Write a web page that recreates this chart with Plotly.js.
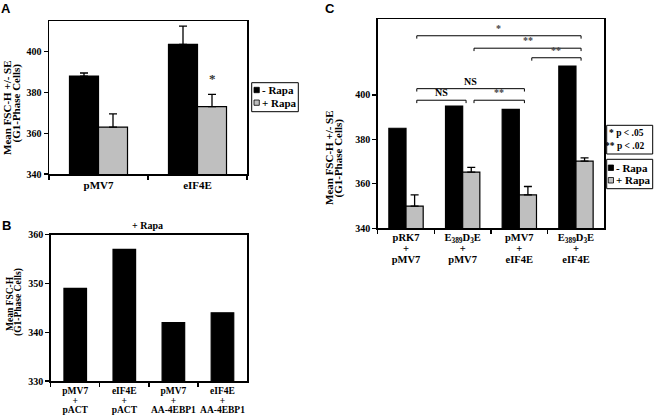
<!DOCTYPE html>
<html><head><meta charset="utf-8">
<script src="https://cdn.plot.ly/plotly-3.0.1.min.js"></script>
<style>html,body{margin:0;padding:0;background:#fff}</style>
</head><body><div id="chart" style="width:655px;height:416px"></div>
<script>
// ---------- Panel A ----------
const catsA = ['pMV7', 'eIF4E'];
const minusRapaA = [388, 403.5];
const minusRapaErrA = [1.5, 9];
const plusRapaA = [363, 373];
const plusRapaErrA = [6.5, 6];
const sigA = ['', '*'];
const sigAy = [null, 387];

// ---------- Panel B ----------
const catsB = ['pMV7 + pACT', 'eIF4E + pACT', 'pMV7 + AA-4EBP1', 'eIF4E + AA-4EBP1'];
const tickLinesB = [['pMV7', '+', 'pACT'], ['eIF4E', '+', 'pACT'], ['pMV7', '+', 'AA-4EBP1'], ['eIF4E', '+', 'AA-4EBP1']];
const plusRapaB = [349, 357, 342, 344];

// ---------- Panel C ----------
const catsC = ['pRK7 + pMV7', 'E389D3E + pMV7', 'pMV7 + eIF4E', 'E389D3E + eIF4E'];
const tickLinesC = [['pRK7', '+', 'pMV7'], ['E<sub>389</sub>D<sub>3</sub>E', '+', 'pMV7'], ['pMV7', '+', 'eIF4E'], ['E<sub>389</sub>D<sub>3</sub>E', '+', 'eIF4E']];
const minusRapaC = [385, 395, 393.5, 413];
const plusRapaC = [350, 365.3, 355, 370.2];
const plusRapaErrC = [5, 2.1, 3.8, 1.5];
// significance brackets (category-index positions, value level, label)
const brStart = [0.19, 1.2, 2.22, 0.19, 0.19, 1.2];
const brEnd = [3.09, 3.09, 3.09, 2.09, 1.06, 2.09];
const brLevel = [426.6, 421, 416.7, 402.8, 397.6, 397.6];
const brLabel = ['*', '**', '**', 'NS', 'NS', '**'];

// ---------- helpers / style ----------
const W = 655, H = 416;
const px = x => x / W, py = y => 1 - y / H;
const SERIF = 'Liberation Serif';
const SANS = 'Liberation Sans';
const GRAY = '#bfbfbf';
const zeros = a => a.map(() => 0);
const joinLines = (lines, size) => lines.map(l => '<span style="font-size:' + size + 'px">' + l + '</span>').join('<br>');

function barTrace(x, y, err, color, w, off, xa, ya) {
  const t = {type: 'bar', x: x, y: y, width: w, offset: off, xaxis: xa, yaxis: ya,
    marker: {color: color, line: {color: '#000', width: 1.2}}, showlegend: false, hoverinfo: 'skip'};
  if (err) t.error_y = {type: 'data', symmetric: false, array: err, arrayminus: zeros(err), color: '#000', thickness: 1.3, width: 4};
  return t;
}

const wA = 0.293, wC = 0.303, wB = 0.46;
const data = [
  barTrace(catsA, minusRapaA, minusRapaErrA, '#000', wA, -wA, 'x', 'y'),
  barTrace(catsA, plusRapaA, plusRapaErrA, GRAY, wA, 0, 'x', 'y'),
  barTrace(catsB, plusRapaB, null, '#000', wB, -wB / 2, 'x2', 'y2'),
  barTrace(catsC, minusRapaC, null, '#000', wC, -wC, 'x3', 'y3'),
  barTrace(catsC, plusRapaC, plusRapaErrC, GRAY, wC, 0, 'x3', 'y3')
];

const tickFont = {family: SERIF, size: 10, color: '#000', weight: 'bold'};
function xAxis(dom, anchor, n, extra) {
  return Object.assign({domain: dom, anchor: anchor, type: 'category', range: [-0.5, n - 0.5],
    showline: true, mirror: true, linecolor: '#000', linewidth: 1.5, tickangle: 0, automargin: false,
    ticks: 'outside', tickson: 'boundaries', ticklen: 4, tickwidth: 1.3, tickcolor: '#000',
    showgrid: false, zeroline: false, tickfont: tickFont, fixedrange: true}, extra || {});
}
function yAxis(dom, anchor, range, vals) {
  return {domain: dom, anchor: anchor, range: range, tickvals: vals, automargin: false,
    showline: true, mirror: true, linecolor: '#000', linewidth: 1.5,
    ticks: 'outside', ticklen: 4, tickwidth: 1.3, tickcolor: '#000',
    showgrid: false, zeroline: false, tickfont: tickFont, fixedrange: true};
}

const annotations = [];
const shapes = [];
function txt(x, y, text, size, opts) {
  annotations.push(Object.assign({xref: 'paper', yref: 'paper', x: px(x), y: py(y), text: text, showarrow: false,
    xanchor: 'center', yanchor: 'middle', font: {family: SERIF, size: size, color: '#000', weight: 'bold'}}, opts || {}));
}
function rect(x0, y0, x1, y1, fill, lw) {
  shapes.push({type: 'rect', xref: 'paper', yref: 'paper', x0: px(x0), x1: px(x1), y0: py(y1), y1: py(y0),
    fillcolor: fill, line: {color: '#000', width: lw}});
}

// panel letters
const letterFont = {family: SANS, size: 13, color: '#000', weight: 'bold'};
txt(6, 8, 'A', 13, {font: letterFont});
txt(6, 226, 'B', 13, {font: letterFont});
txt(330, 8, 'C', 13, {font: letterFont});

// y-axis titles
txt(7, 108, 'Mean FSC-H +/- SE', 11, {textangle: -90});
txt(15.5, 103, '(G1-Phase Cells)', 11, {textangle: -90});
txt(10, 304, 'Mean FSC-H', 9.5, {textangle: -90});
txt(18, 302, '(G1-Phase Cells)', 9.5, {textangle: -90});
txt(329, 158, 'Mean FSC-H +/- SE', 11, {textangle: -90});
txt(338, 157.5, '(G1-Phase Cells)', 11, {textangle: -90});

// panel B title
txt(147, 225, '+ Rapa', 10);

// panel A significance
sigA.forEach((s, i) => {
  if (s) annotations.push({xref: 'x', yref: 'y', x: i + wA / 2, y: sigAy[i], text: s, showarrow: false,
    font: {family: SERIF, size: 13, color: '#333', weight: 'bold'}});
});

// legend A
rect(251.7, 82.7, 298.3, 111.7, '#fff', 1);
rect(254, 87.3, 259.3, 92.7, '#000', 0.8);
rect(254, 100, 259.3, 105.3, GRAY, 0.8);
txt(259.5, 90, '- Rapa', 11, {xanchor: 'left'});
txt(259.5, 102.7, '+ Rapa', 11, {xanchor: 'left'});

// legend C
rect(606.7, 125.3, 652.7, 154, '#fff', 1);
txt(646, 133.3, '* p &lt; .05', 9.5, {xanchor: 'right'});
txt(646, 145.7, '** p &lt; .02', 9.5, {xanchor: 'right'});
rect(606.7, 159.3, 652.7, 188.7, '#fff', 1);
rect(608.3, 165, 613.5, 170.5, '#000', 0.8);
rect(608.3, 177.5, 613.5, 183, GRAY, 0.8);
txt(613.8, 167.7, '- Rapa', 11, {xanchor: 'left'});
txt(613.8, 180.3, '+ Rapa', 11, {xanchor: 'left'});

// brackets C
const leg = 1.3;
brLabel.forEach((lab, i) => {
  const L = {type: 'line', xref: 'x3', yref: 'y3', line: {color: '#000', width: 1}};
  shapes.push(Object.assign({}, L, {x0: brStart[i], x1: brEnd[i], y0: brLevel[i], y1: brLevel[i]}));
  shapes.push(Object.assign({}, L, {x0: brStart[i], x1: brStart[i], y0: brLevel[i] - leg, y1: brLevel[i]}));
  shapes.push(Object.assign({}, L, {x0: brEnd[i], x1: brEnd[i], y0: brLevel[i] - leg, y1: brLevel[i]}));
  annotations.push({xref: 'x3', yref: 'y3', x: (brStart[i] + brEnd[i]) / 2, y: brLevel[i], yanchor: 'bottom',
    text: lab, showarrow: false, font: {family: SERIF, size: 10, color: lab === 'NS' ? '#000' : '#444', weight: 'bold'}});
});

const layout = {
  width: W, height: H, margin: {l: 0, r: 0, t: 0, b: 0},
  paper_bgcolor: '#fff', plot_bgcolor: '#fff', showlegend: false, barmode: 'overlay',
  font: {family: SERIF, color: '#000'},
  xaxis: xAxis([px(49), px(247)], 'y', 2, {tickfont: {family: SERIF, size: 11, color: '#000', weight: 'bold'}}),
  yaxis: yAxis([py(174), py(21)], 'x', [340, 415], [340, 360, 380, 400]),
  xaxis2: xAxis([px(50.7), px(247)], 'y2', 4, {tickvals: catsB, ticktext: tickLinesB.map(l => joinLines(l, 9.5)),
    tickfont: {family: SERIF, size: 7.2, color: '#000', weight: 'bold'}, ticklabelstandoff: 3}),
  yaxis2: yAxis([py(381), py(234.7)], 'x2', [330, 360], [330, 340, 350, 360]),
  xaxis3: xAxis([px(377.7), px(604.3)], 'y3', 4, {tickvals: catsC, ticktext: tickLinesC.map(l => joinLines(l, 10.5)),
    tickfont: {family: SERIF, size: 8.6, color: '#000', weight: 'bold'}, ticklabelstandoff: 1}),
  yaxis3: yAxis([py(228.3), py(19.3)], 'x3', [340, 434], [340, 360, 380, 400]),
  annotations: annotations, shapes: shapes
};

Plotly.newPlot('chart', data, layout, {displayModeBar: false, staticPlot: true});
</script></body></html>
